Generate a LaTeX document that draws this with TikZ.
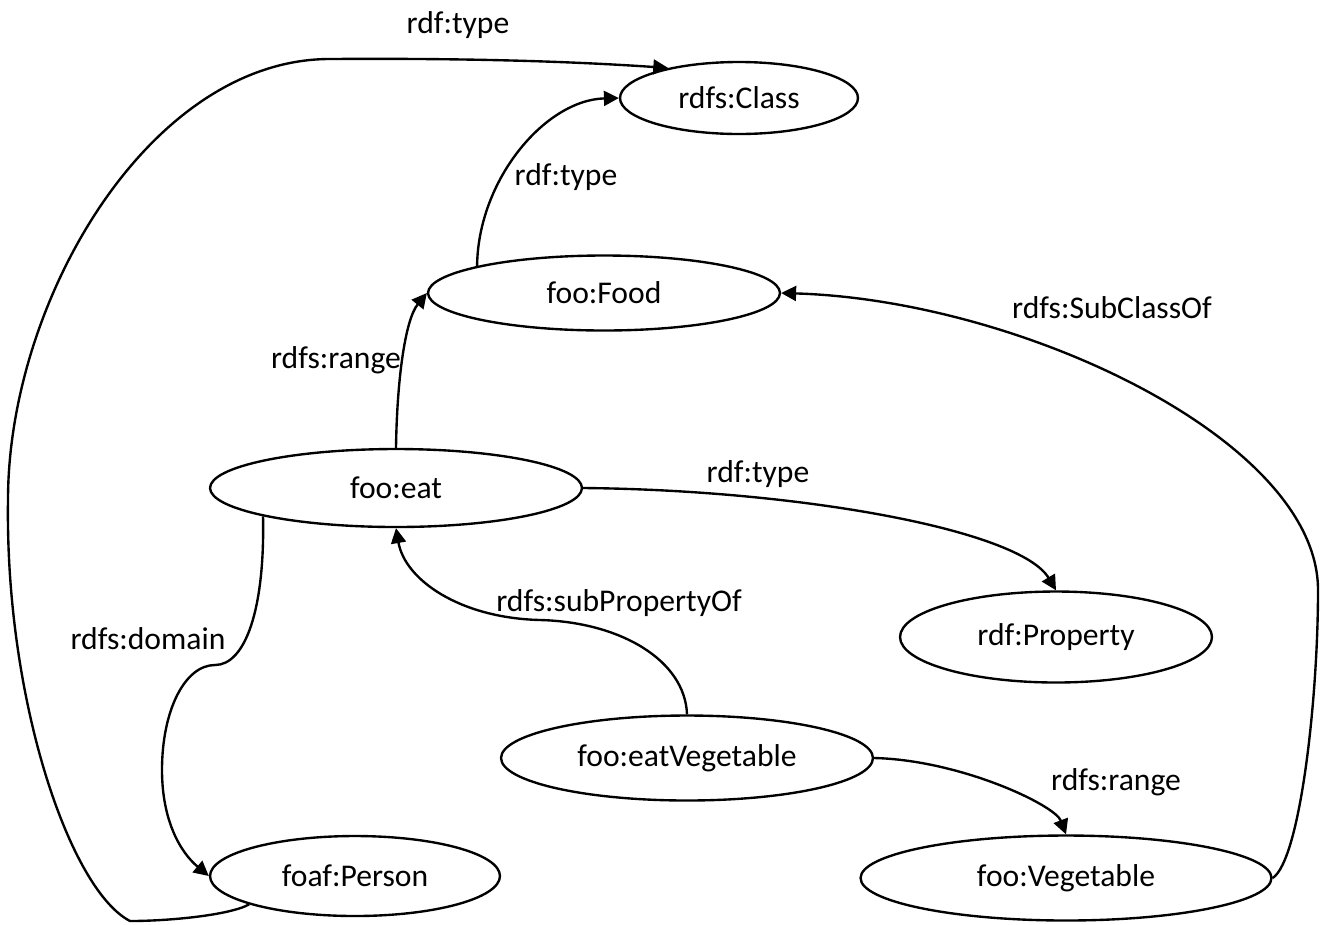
\documentclass[tikz,border=0pt]{standalone}
\usepackage{fontspec}
\setmainfont{Carlito}
\usetikzlibrary{arrows.meta,shapes.geometric}
\begin{document}
\begin{tikzpicture}[x=0.02cm,y=-0.02cm,
  ent/.style={draw, ellipse, line width=1.35pt, inner sep=0pt, font=\fontsize{18}{21}\selectfont},
  rel/.style={draw, line width=1.35pt, -{Triangle[length=8.5pt,width=8.5pt]}},
  lbl/.style={font=\fontsize{18}{21}\selectfont, inner sep=0pt}]
\useasboundingbox (0,0) rectangle (1327,924);
\fill[white] (0,0) rectangle (1327,924);

\node[ent, minimum width=4.76cm, minimum height=1.44cm] (class) at (739,98) {rdfs:Class};
\node[ent, minimum width=7.04cm, minimum height=1.50cm] (food) at (604,293) {foo:Food};
\node[ent, minimum width=7.44cm, minimum height=1.56cm] (eat) at (396,488) {foo:eat};
\node[ent, minimum width=6.24cm, minimum height=1.82cm] (prop) at (1056,637) {rdf:Property};
\node[ent, minimum width=7.44cm, minimum height=1.70cm] (eatveg) at (687,758) {foo:eatVegetable};
\node[ent, minimum width=8.22cm, minimum height=1.70cm] (veg) at (1066,878) {foo:Vegetable};
\node[ent, minimum width=5.80cm, minimum height=1.60cm] (person) at (355,876) {foaf:Person};

% foaf:Person -> rdfs:Class
\draw[rel] (person.195) .. controls (230,915) and (170,921) .. (130,921)
  .. controls (70,890) and (5,700) .. (8,500)
  .. controls (8,300) and (150,59) .. (330,59)
  .. controls (480,58) and (580,62) .. (class.157);
\node[lbl] (l1) at (458,25) {rdf:type};

% foo:Food -> rdfs:Class
\draw[rel] (food.168) .. controls (478,180) and (545,100) .. (class.west);
\node[lbl] (l2) at (566,177) {rdf:type};

% foo:eat -> foo:Food
\draw[rel] (eat.north) .. controls (397,380) and (405,320) .. (food.west);
\node[lbl] (l3) at (336,360) {rdfs:range};

% foo:Vegetable -> foo:Food
\draw[rel] (veg.east) .. controls (1300,860) and (1318,700) .. (1318,590)
  .. controls (1318,440) and (1020,300) .. (food.east);
\node[lbl] (l4) at (1112,308) {rdfs:SubClassOf};

% foo:eat -> rdf:Property
\draw[rel] (eat.east) .. controls (800,490) and (1020,530) .. (prop.north);
\node[lbl] (l5) at (758,474) {rdf:type};

% foo:eatVegetable -> foo:eat
\draw[rel] (eatveg.north) .. controls (685,660) and (620,622) .. (540,620)
  .. controls (460,618) and (405,580) .. (eat.south);
\node[lbl] (l6) at (619,603) {rdfs:subPropertyOf};

% foo:eat -> foaf:Person
\draw[rel] (eat.192) .. controls (265,610) and (245,665) .. (215,665)
  .. controls (185,665) and (162,710) .. (162,770)
  .. controls (162,820) and (180,852) .. (person.west);
\node[lbl] (l7) at (148,639) {rdfs:domain};

% foo:eatVegetable -> foo:Vegetable
\draw[rel] (eatveg.east) .. controls (960,760) and (1055,805) .. (veg.north);
\node[lbl] (l8) at (1116,782) {rdfs:range};
\end{tikzpicture}
\end{document}
